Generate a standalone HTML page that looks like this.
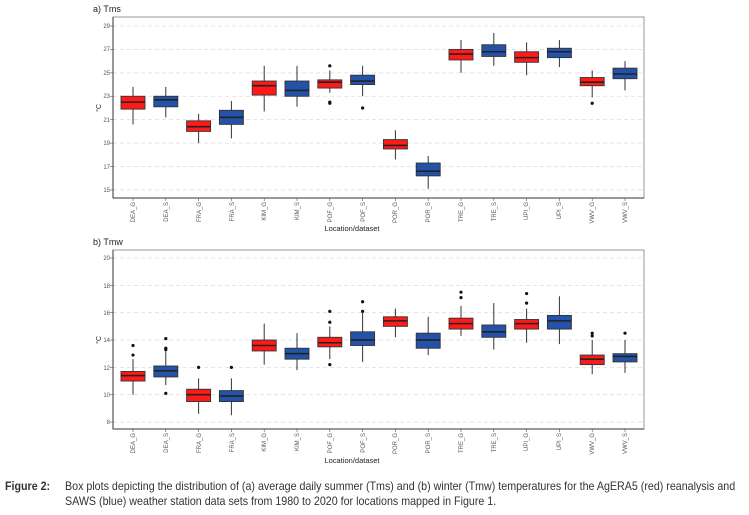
<!DOCTYPE html>
<html><head><meta charset="utf-8"><style>
body{margin:0;background:#fff;width:749px;height:515px;overflow:hidden;font-family:"Liberation Sans",sans-serif;}
.cap{position:absolute;font-size:12px;color:#333;transform-origin:0 0;transform:scaleX(0.89);white-space:nowrap;}
</style></head><body>
<svg id="s" width="749" height="515" style="position:absolute;left:0;top:0" font-family="Liberation Sans, sans-serif">
<text x="93" y="12" font-size="9" fill="#222">a) Tms</text>
<text x="93" y="245" font-size="9" fill="#222">b) Tmw</text>
<g font-size="6" fill="#555" text-anchor="end">
<text x="110" y="28">29</text><text x="110" y="51">27</text><text x="110" y="75">25</text><text x="110" y="98">23</text><text x="110" y="122">21</text><text x="110" y="145">19</text><text x="110" y="169">17</text><text x="110" y="192">15</text>
<text x="110" y="260">20</text><text x="110" y="288">18</text><text x="110" y="315">16</text><text x="110" y="342">14</text><text x="110" y="370">12</text><text x="110" y="397">10</text><text x="110" y="424">8</text>
</g>
<text transform="translate(101,108) rotate(-90)" font-size="7" fill="#222" text-anchor="middle">°C</text>
<text transform="translate(101,340) rotate(-90)" font-size="7" fill="#222" text-anchor="middle">°C</text>
<text x="352" y="231" font-size="7.5" fill="#222" text-anchor="middle">Location/dataset</text>
<text x="352" y="463" font-size="7.5" fill="#222" text-anchor="middle">Location/dataset</text>
<g id="la" font-size="6" fill="#555" text-anchor="end">
<text transform="translate(135,202) rotate(-90)">DEA_G</text><text transform="translate(168,202) rotate(-90)">DEA_S</text><text transform="translate(201,202) rotate(-90)">FRA_G</text><text transform="translate(234,202) rotate(-90)">FRA_S</text><text transform="translate(266,202) rotate(-90)">KIM_G</text><text transform="translate(299,202) rotate(-90)">KIM_S</text><text transform="translate(332,202) rotate(-90)">POF_G</text><text transform="translate(365,202) rotate(-90)">POF_S</text><text transform="translate(397,202) rotate(-90)">POR_G</text><text transform="translate(430,202) rotate(-90)">POR_S</text><text transform="translate(463,202) rotate(-90)">TRE_G</text><text transform="translate(496,202) rotate(-90)">TRE_S</text><text transform="translate(528,202) rotate(-90)">UPI_G</text><text transform="translate(561,202) rotate(-90)">UPI_S</text><text transform="translate(594,202) rotate(-90)">VWV_G</text><text transform="translate(627,202) rotate(-90)">VWV_S</text>
</g>
<g font-size="6" fill="#555" text-anchor="end">
<text transform="translate(135,433) rotate(-90)">DEA_G</text><text transform="translate(168,433) rotate(-90)">DEA_S</text><text transform="translate(201,433) rotate(-90)">FRA_G</text><text transform="translate(234,433) rotate(-90)">FRA_S</text><text transform="translate(266,433) rotate(-90)">KIM_G</text><text transform="translate(299,433) rotate(-90)">KIM_S</text><text transform="translate(332,433) rotate(-90)">POF_G</text><text transform="translate(365,433) rotate(-90)">POF_S</text><text transform="translate(397,433) rotate(-90)">POR_G</text><text transform="translate(430,433) rotate(-90)">POR_S</text><text transform="translate(463,433) rotate(-90)">TRE_G</text><text transform="translate(496,433) rotate(-90)">TRE_S</text><text transform="translate(528,433) rotate(-90)">UPI_G</text><text transform="translate(561,433) rotate(-90)">UPI_S</text><text transform="translate(594,433) rotate(-90)">VWV_G</text><text transform="translate(627,433) rotate(-90)">VWV_S</text>
</g>
<g id="g"></g>
</svg>
<div class="cap" style="left:5px;top:479px;font-weight:bold;">Figure 2:</div>
<div class="cap" style="left:65px;top:479px;">Box plots depicting the distribution of (a) average daily summer (Tms) and (b) winter (Tmw) temperatures for the AgERA5 (red) reanalysis and</div>
<div class="cap" style="left:65px;top:494px;">SAWS (blue) weather station data sets from 1980 to 2020 for locations mapped in Figure 1.</div>
<script>
var A=[[20.6,21.9,22.5,23.0,23.8,[]],[21.2,22.1,22.7,23.0,23.8,[]],[19.0,20.0,20.4,20.9,21.5,[]],[19.4,20.6,21.2,21.8,22.6,[]],[21.7,23.1,23.9,24.3,25.6,[]],[22.1,23.0,23.5,24.3,25.6,[]],[23.3,23.7,24.2,24.4,25.2,[25.6,22.4,22.5]],[23.0,24.0,24.3,24.8,25.6,[22.0]],[17.6,18.5,18.8,19.3,20.1,[]],[15.1,16.2,16.6,17.3,17.9,[]],[25.0,26.1,26.6,27.0,27.8,[]],[25.6,26.4,26.8,27.4,28.4,[]],[24.8,25.9,26.3,26.8,27.6,[]],[25.5,26.3,26.8,27.1,27.8,[]],[22.9,23.9,24.2,24.6,25.2,[22.4]],[23.5,24.5,24.9,25.4,26.0,[]]];
var B=[[10.0,11.0,11.4,11.7,12.6,[12.9,13.6]],[10.7,11.3,11.75,12.1,13.2,[13.3,13.4,14.1,10.1]],[8.6,9.5,10.0,10.4,11.2,[12]],[8.5,9.5,9.9,10.3,11.2,[12]],[12.2,13.2,13.6,14.0,15.2,[]],[11.8,12.6,13.0,13.4,14.5,[]],[12.6,13.5,13.8,14.2,15.0,[15.3,16.1,12.2]],[12.4,13.6,14.0,14.6,16.0,[16.1,16.8]],[14.2,15.0,15.4,15.7,16.3,[]],[12.9,13.4,14.0,14.5,15.7,[]],[14.3,14.8,15.2,15.6,16.5,[17.1,17.5]],[13.3,14.2,14.6,15.1,16.7,[]],[13.8,14.8,15.2,15.5,16.3,[16.7,17.4]],[13.7,14.8,15.4,15.8,17.2,[]],[11.5,12.2,12.6,12.9,14.0,[14.3,14.5]],[11.6,12.4,12.8,13.0,14.0,[14.5]]];
var h='';
function panel(D,top,bot,y0,v0,k,ticks){
 h+='<rect x="113" y="'+top+'" width="531" height="'+(bot-top)+'" fill="#fff" stroke="#999" stroke-width="1"/>';
 ticks.forEach(function(t){var y=y0+(v0-t)*k;h+='<line x1="113" x2="644" y1="'+y+'" y2="'+y+'" stroke="#ddd" stroke-dasharray="4,3" stroke-width="0.8"/>';
 h+='<line x1="110" x2="113" y1="'+y+'" y2="'+y+'" stroke="#555" stroke-width="0.6"/>';});
 h+='<line x1="113" x2="113" y1="'+top+'" y2="'+bot+'" stroke="#333" stroke-width="1"/>';
 h+='<line x1="113" x2="644" y1="'+bot+'" y2="'+bot+'" stroke="#333" stroke-width="1"/>';
 D.forEach(function(d,i){var x=133+i*32.8,c=i%2?'#2352a8':'#ff1a1a';var Y=function(v){return y0+(v0-v)*k;};
 h+='<line x1="'+x+'" x2="'+x+'" y1="'+bot+'" y2="'+(bot+3)+'" stroke="#555" stroke-width="0.6"/>';
 h+='<line x1="'+x+'" x2="'+x+'" y1="'+Y(d[4])+'" y2="'+Y(d[0])+'" stroke="#333" stroke-width="1"/>';
 h+='<rect x="'+(x-12)+'" y="'+Y(d[3])+'" width="24" height="'+(Y(d[1])-Y(d[3]))+'" fill="'+c+'" stroke="#333" stroke-width="0.9"/>';
 h+='<line x1="'+(x-12)+'" x2="'+(x+12)+'" y1="'+Y(d[2])+'" y2="'+Y(d[2])+'" stroke="#222" stroke-width="1.6"/>';
 d[5].forEach(function(o){h+='<circle cx="'+x+'" cy="'+Y(o)+'" r="1.6" fill="#111"/>';});});
}
panel(A,17,198,26,29,11.71,[29,27,25,23,21,19,17,15]);
panel(B,250,429,258,20,13.67,[20,18,16,14,12,10,8]);
document.getElementById('g').innerHTML=h;
document.getElementById('s').appendChild(document.getElementById('la'));
</script>
</body></html>
